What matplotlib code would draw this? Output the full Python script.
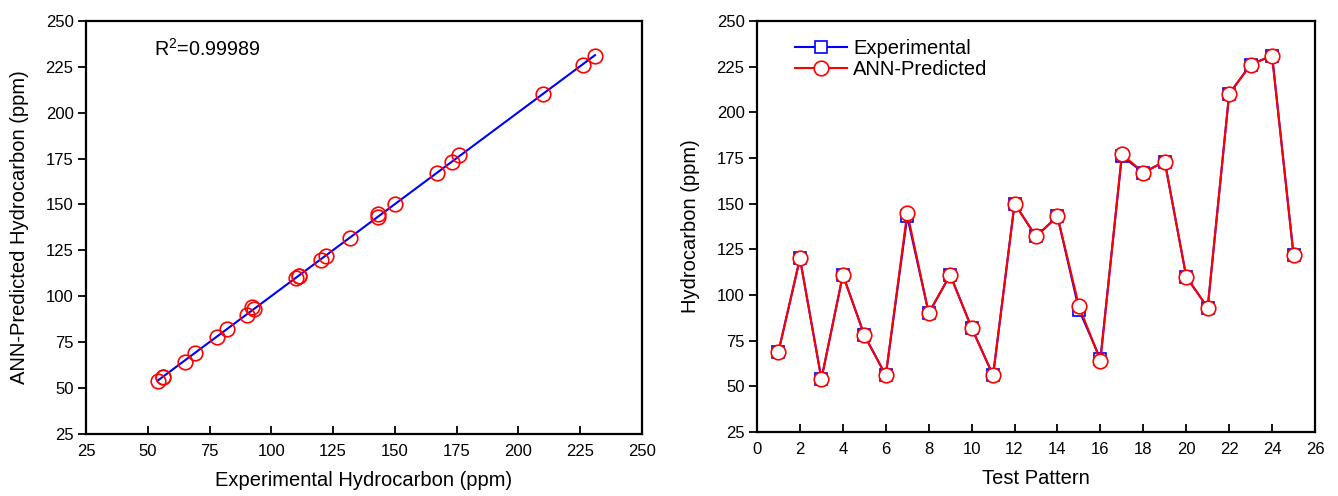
import numpy as np
import matplotlib
matplotlib.use('Agg')
import matplotlib.pyplot as plt

plt.rcParams['font.family'] = ['Liberation Sans', 'DejaVu Sans']
plt.rcParams['mathtext.fontset'] = 'custom'
plt.rcParams['mathtext.rm'] = 'Liberation Sans'

# test pattern data
pattern = list(range(1, 26))
experimental = [69, 120, 54, 111, 78, 56, 143, 90, 111, 82, 56, 150, 132, 143,
                92, 65, 176, 167, 173, 110, 93, 210, 226, 231, 122]
predicted = [69, 120, 54, 111, 78, 56, 145, 90, 111, 82, 56, 150, 132, 143,
             94, 64, 177, 167, 173, 110, 93, 210, 226, 231, 122]

ticks_hc = [25, 50, 75, 100, 125, 150, 175, 200, 225, 250]
ticks_pat = list(range(0, 27, 2))
r2_text = r'R$^{2}$=0.99989'

fig = plt.figure(figsize=(13.38, 4.96), dpi=100)
ax1 = fig.add_axes([0.0643, 0.125, 0.4155, 0.833])
ax2 = fig.add_axes([0.5658, 0.129, 0.417, 0.829])

# left: parity plot
exp_arr = np.array(experimental)
pred_arr = np.array(predicted)
k, b = np.polyfit(exp_arr, pred_arr, 1)
xl = np.array([exp_arr.min(), exp_arr.max()])
ax1.plot(xl, k * xl + b, color='blue', lw=1.5, zorder=2)
ax1.plot(exp_arr, pred_arr, 'o', mfc='none', mec='red', ms=10.5, mew=1.2, zorder=3)
ax1.text(52.5, 235, r2_text, fontsize=14.2, va='center', ha='left')
ax1.set_xlim(25, 250)
ax1.set_ylim(25, 250)
ax1.set_xticks(ticks_hc)
ax1.set_yticks(ticks_hc)
ax1.set_xlabel('Experimental Hydrocarbon (ppm)', fontsize=14.5, labelpad=9)
ax1.set_ylabel('ANN-Predicted Hydrocarbon (ppm)', fontsize=14.5, labelpad=12)

# right: per pattern comparison
ax2.plot(pattern, experimental, '-s', color='blue', mfc='white', mec='blue',
         ms=9, mew=1.2, lw=1.5, label='Experimental')
ax2.plot(pattern, predicted, '-o', color='red', mfc='white', mec='red',
         ms=10.5, mew=1.2, lw=1.5, label='ANN-Predicted')
ax2.set_xlim(0, 26)
ax2.set_ylim(25, 250)
ax2.set_xticks(ticks_pat)
ax2.set_yticks(ticks_hc)
ax2.set_xlabel('Test Pattern', fontsize=14.5, labelpad=9)
ax2.set_ylabel('Hydrocarbon (ppm)', fontsize=14.5, labelpad=12)
ax2.legend(loc='upper left', bbox_to_anchor=(0.035, 1.0), frameon=False,
           fontsize=14.5, handlelength=2.6, labelspacing=0.1, handletextpad=0.3)

for ax in (ax1, ax2):
    for sp in ax.spines.values():
        sp.set_linewidth(1.6)
    ax.tick_params(axis='x', direction='in', length=6, width=1.3, labelsize=12, pad=7)
    ax.tick_params(axis='y', direction='out', length=6, width=1.3, labelsize=12, pad=3)

fig.savefig('out.png', dpi=100)
